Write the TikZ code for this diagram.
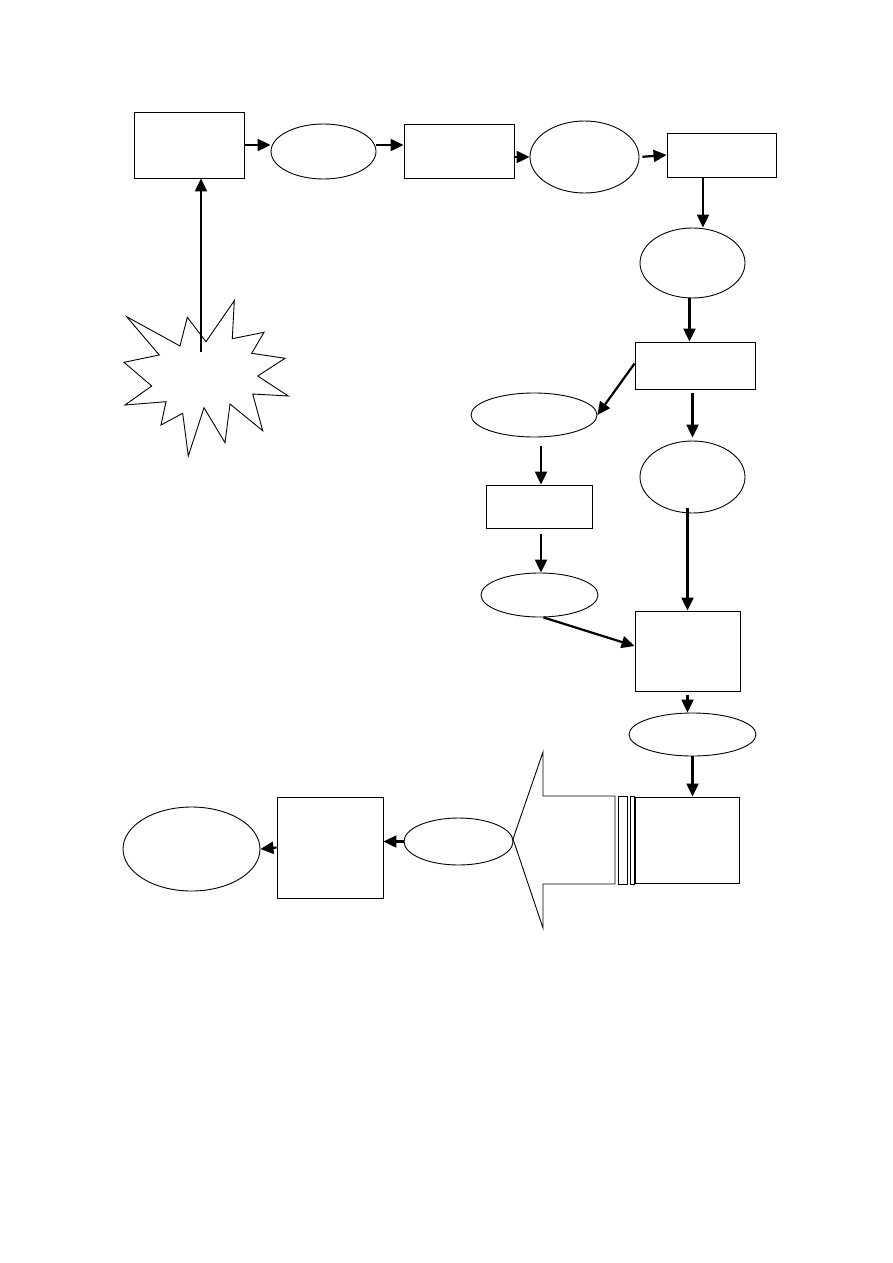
\documentclass[tikz,border=0pt]{standalone}
\usetikzlibrary{arrows.meta,shapes.geometric}

\begin{document}
\begin{tikzpicture}[x=1pt,y=-1pt]
    \tikzset{procbox/.style={draw,line width=0.9pt,inner sep=0pt,minimum width=#1},
      procbox/.default=110pt,
      procoval/.style={ellipse,draw,line width=0.9pt,inner sep=0pt,minimum width=#1},
      procoval/.default=105pt,
      flowarrow/.style={-{Triangle[length=13pt,width=12pt]},line width=2.2pt}}
    \path[use as bounding box] (0,0) rectangle (893,1263);
    % top row
    \node[procbox,minimum height=66pt] (a) at (189,145) {};
    \node[procoval,minimum height=55pt] (b) at (323.5,151.5) {};
    \node[procbox,minimum height=54pt] (c) at (459,151) {};
    \node[procoval=109pt,minimum height=72pt] (d) at (584.5,157) {};
    \node[procbox=109pt,minimum height=44pt] (e) at (721.5,155) {};
    % right column
    \node[procoval,minimum height=70pt] (f) at (692.5,263) {};
    \node[procbox=120pt,minimum height=47pt] (g) at (695,365.5) {};
    \node[procoval=126pt,minimum height=44pt] (h) at (534,415) {};
    \node[procoval,minimum height=72pt] (i) at (692.5,477) {};
    \node[procbox=106pt,minimum height=43pt] (j) at (539,506.5) {};
    \node[procoval=117pt,minimum height=44pt] (k) at (539.5,595) {};
    \node[procbox=105pt,minimum height=80pt] (l) at (687.5,651) {};
    \node[procoval=127pt,minimum height=43pt] (m) at (692.5,734.5) {};
    \node[procbox=104pt,minimum height=86pt] (n) at (687,840) {};
    % bottom row
    \node[procoval=109pt,minimum height=47pt] (o) at (458.5,841.5) {};
    \node[procbox=106pt,minimum height=101pt] (p) at (330,847.5) {};
    \node[procoval=137pt,minimum height=84pt] (q) at (191.5,849) {};
    % burst
    \draw[line width=0.9pt,fill=white] (126.7,316.7) -- (180,346) -- (187.3,317.3) -- (206,341.7)
      -- (234.3,300.7) -- (232.3,338.7) -- (264,332.3) -- (251.7,353.3) -- (285,358.3)
      -- (257.7,376) -- (288.3,396) -- (252.7,394) -- (262.7,430.7) -- (230,404)
      -- (225,442.7) -- (204,407.7) -- (188.3,456) -- (182.7,413.3) -- (161,425)
      -- (166,401.7) -- (125,405) -- (151.7,386) -- (124,362.3) -- (159.3,355) -- cycle;
    \coordinate (burst) at (201,352);
    % big block arrow
    \draw[line width=0.9pt] (513,839) -- (543,752) -- (543,796) -- (615,796) -- (615,884)
      -- (543,884) -- (543,928) -- cycle;
    \draw[line width=0.9pt] (618,796) rectangle (627,884);
    \draw[line width=0.9pt] (630,796) rectangle (634,884);
    % connectors
    \draw[flowarrow] (burst) -- (burst |- a.south);
    \draw[flowarrow] (a.east) -- (a.east -| b.west);
    \draw[flowarrow] (b.east |- a.east) -- (c.west |- a.east);
    \draw[flowarrow] (c.east |- d.west) -- (d.west);
    \draw[flowarrow,shorten <=3pt] (d.east) -- (e.west);
    \draw[flowarrow] ([xshift=-18.5pt]e.south) -- ([xshift=-18.5pt]e.south |- f.north);
    \draw[flowarrow] ([xshift=-3pt]f.south) -- ([xshift=-3pt]f.south |- g.north);
    \draw[flowarrow] ([yshift=2pt]g.west) -- (h.east);
    \draw[flowarrow,shorten <=4pt,shorten >=3pt] (i.north |- g.south) -- (i.north);
    \draw[flowarrow,shorten <=9pt] ([xshift=2pt]j.north |- h.south) -- ([xshift=2pt]j.north);
    \draw[flowarrow,shorten <=6pt] ([xshift=2pt]j.south) -- ([xshift=2pt]j.south |- k.north);
    \draw[flowarrow] ([xshift=4pt]k.south) -- ([yshift=5pt]l.west);
    \draw[flowarrow,shorten <=-5pt] (l.north |- i.south) -- (l.north);
    \draw[flowarrow,shorten <=4pt] (l.south) -- (l.south |- m.north);
    \draw[flowarrow] (m.south) -- (m.south |- n.north);
    \draw[flowarrow] (o.west) -- (p.east |- o.west);
    \draw[flowarrow] (p.west) -- (q.east);
\end{tikzpicture}
\end{document}
